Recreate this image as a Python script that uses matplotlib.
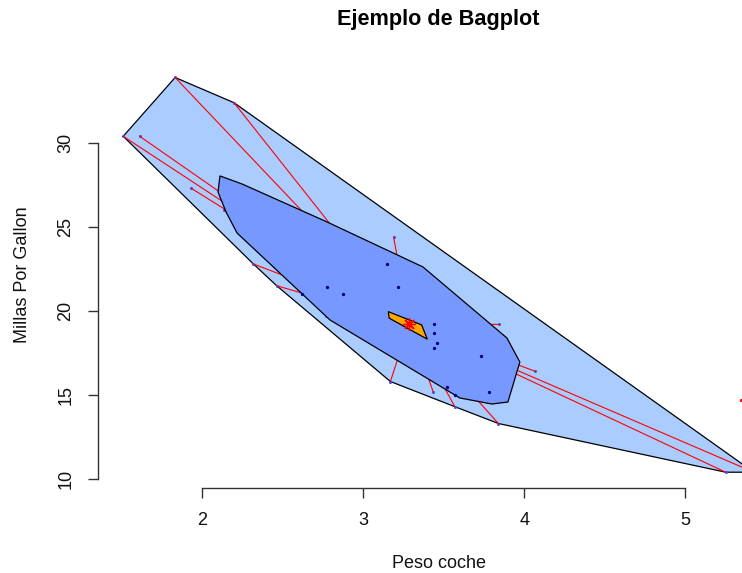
import numpy as np
import matplotlib
matplotlib.use("Agg")
import matplotlib.pyplot as plt
from matplotlib.patches import Polygon

plt.rcParams["font.family"] = ["Liberation Sans", "DejaVu Sans"]

# mtcars: weight (1000 lbs) and miles per gallon
cars = ["Mazda RX4", "Mazda RX4 Wag", "Datsun 710", "Hornet 4 Drive",
        "Hornet Sportabout", "Valiant", "Duster 360", "Merc 240D", "Merc 230",
        "Merc 280", "Merc 280C", "Merc 450SE", "Merc 450SL", "Merc 450SLC",
        "Cadillac Fleetwood", "Lincoln Continental", "Chrysler Imperial",
        "Fiat 128", "Honda Civic", "Toyota Corolla", "Toyota Corona",
        "Dodge Challenger", "AMC Javelin", "Camaro Z28", "Pontiac Firebird",
        "Fiat X1-9", "Porsche 914-2", "Lotus Europa", "Ford Pantera L",
        "Ferrari Dino", "Maserati Bora", "Volvo 142E"]
wt = [2.620, 2.875, 2.320, 3.215, 3.440, 3.460, 3.570, 3.190, 3.150, 3.440,
      3.440, 4.070, 3.730, 3.780, 5.250, 5.424, 5.345, 2.200, 1.615, 1.835,
      2.465, 3.520, 3.435, 3.840, 3.845, 1.935, 2.140, 1.513, 3.170, 2.770,
      3.570, 2.780]
mpg = [21.0, 21.0, 22.8, 21.4, 18.7, 18.1, 14.3, 24.4, 22.8, 19.2, 17.8,
       16.4, 17.3, 15.2, 10.4, 10.4, 14.7, 32.4, 30.4, 33.9, 21.5, 15.5,
       15.2, 13.3, 19.2, 27.3, 26.0, 30.4, 15.8, 19.7, 15.0, 21.4]
# region of each car: inside the bag, in the loop, or outlier
region = ["bag", "bag", "loop", "bag", "bag", "bag", "loop", "loop", "bag",
          "bag", "bag", "loop", "bag", "bag", "loop", "loop", "out", "loop",
          "loop", "loop", "loop", "bag", "loop", "loop", "loop", "loop",
          "loop", "loop", "loop", "loop", "bag", "bag"]

# bag (50% depth region) outline
bag_wt = [2.113, 2.250, 2.777, 3.372, 3.893, 3.973, 3.899, 3.800, 3.601,
          2.796, 2.219, 2.151, 2.101]
bag_mpg = [28.04, 27.56, 25.30, 22.62, 18.39, 16.96, 14.58, 14.46, 14.82,
           19.46, 24.64, 25.89, 27.08]
# deepest region and Tukey median
center_wt = [3.157, 3.364, 3.399, 3.163]
center_mpg = [19.96, 19.17, 18.32, 19.57]
median_wt, median_mpg = 3.287, 19.23

x_ticks = [2, 3, 4, 5]
y_ticks = [10, 15, 20, 25, 30]

wt = np.array(wt)
mpg = np.array(mpg)
region = np.array(region)


def convex_hull(pts):
    pts = sorted(map(tuple, pts))

    def cross(o, a, b):
        return (a[0] - o[0]) * (b[1] - o[1]) - (a[1] - o[1]) * (b[0] - o[0])

    lower, upper = [], []
    for p in pts:
        while len(lower) >= 2 and cross(lower[-2], lower[-1], p) <= 0:
            lower.pop()
        lower.append(p)
    for p in reversed(pts):
        while len(upper) >= 2 and cross(upper[-2], upper[-1], p) <= 0:
            upper.pop()
        upper.append(p)
    return np.array(lower[:-1] + upper[:-1])


W, H = 742, 573
fig = plt.figure(figsize=(W / 100, H / 100), dpi=100)
left, right, bottom, top = 98, 779, 488, 61.7
ax = fig.add_axes([left / W, 1 - bottom / H, (right - left) / W, (bottom - top) / H])

rx = wt.max() - wt.min()
ry = mpg.max() - mpg.min()
ax.set_xlim(wt.min() - 0.04 * rx, wt.max() + 0.04 * rx)
ax.set_ylim(mpg.min() - 0.04 * ry, mpg.max() + 0.04 * ry)

# loop: hull of all non-outlying points
inner = region != "out"
loop = convex_hull(np.column_stack([wt[inner], mpg[inner]]))
ax.add_patch(Polygon(loop, closed=True, facecolor="#aaccff",
                     edgecolor="black", lw=0.9, zorder=1))

# whiskers from loop points to the median
lp = region == "loop"
ax.plot(wt[lp], mpg[lp], "o", color="#3355FF", ms=2.2, mew=0, zorder=2)
for x, y in zip(wt[lp], mpg[lp]):
    ax.plot([x, median_wt], [y, median_mpg], color="red", lw=0.8, zorder=3)

# bag and center
ax.add_patch(Polygon(np.column_stack([bag_wt, bag_mpg]), closed=True,
                     facecolor="#7799ff", edgecolor="black", lw=0.9, zorder=4))
ax.add_patch(Polygon(np.column_stack([center_wt, center_mpg]), closed=True,
                     facecolor="orange", edgecolor="black", lw=0.9, zorder=5))

bp = region == "bag"
ax.plot(wt[bp], mpg[bp], "o", color="#000088", ms=2.4, mew=0, zorder=6)
op = region == "out"
ax.plot(wt[op], mpg[op], "o", color="red", ms=2.4, mew=0, zorder=6)
ax.plot([median_wt], [median_mpg], marker=(8, 2, 0), color="red", ms=9,
        mew=1.0, ls="none", zorder=7)

for s in ("top", "right"):
    ax.spines[s].set_visible(False)
ax.spines["bottom"].set_bounds(x_ticks[0], x_ticks[-1])
ax.spines["left"].set_bounds(y_ticks[0], y_ticks[-1])
for s in ("bottom", "left"):
    ax.spines[s].set_color("#333333")
    ax.spines[s].set_linewidth(1.0)
ax.set_xticks(x_ticks)
ax.set_yticks(y_ticks)
ax.tick_params(axis="both", length=7, width=1.0, color="#333333",
               labelsize=13, pad=10, labelcolor="#111111")
plt.setp(ax.get_yticklabels(), rotation=90, va="center")

fig.text((left + right) / 2 / W, 1 - 19 / H, "Ejemplo de Bagplot",
         ha="center", va="center", fontsize=15.6, fontweight="bold")
fig.text((left + right) / 2 / W, 1 - 563 / H, "Peso coche",
         ha="center", va="center", fontsize=13, color="#111111")
fig.text(23 / W, 1 - (bottom + top) / 2 / H, "Millas Por Gallon",
         ha="center", va="center", rotation=90, fontsize=13, color="#111111")

fig.savefig("out.png", dpi=100)
